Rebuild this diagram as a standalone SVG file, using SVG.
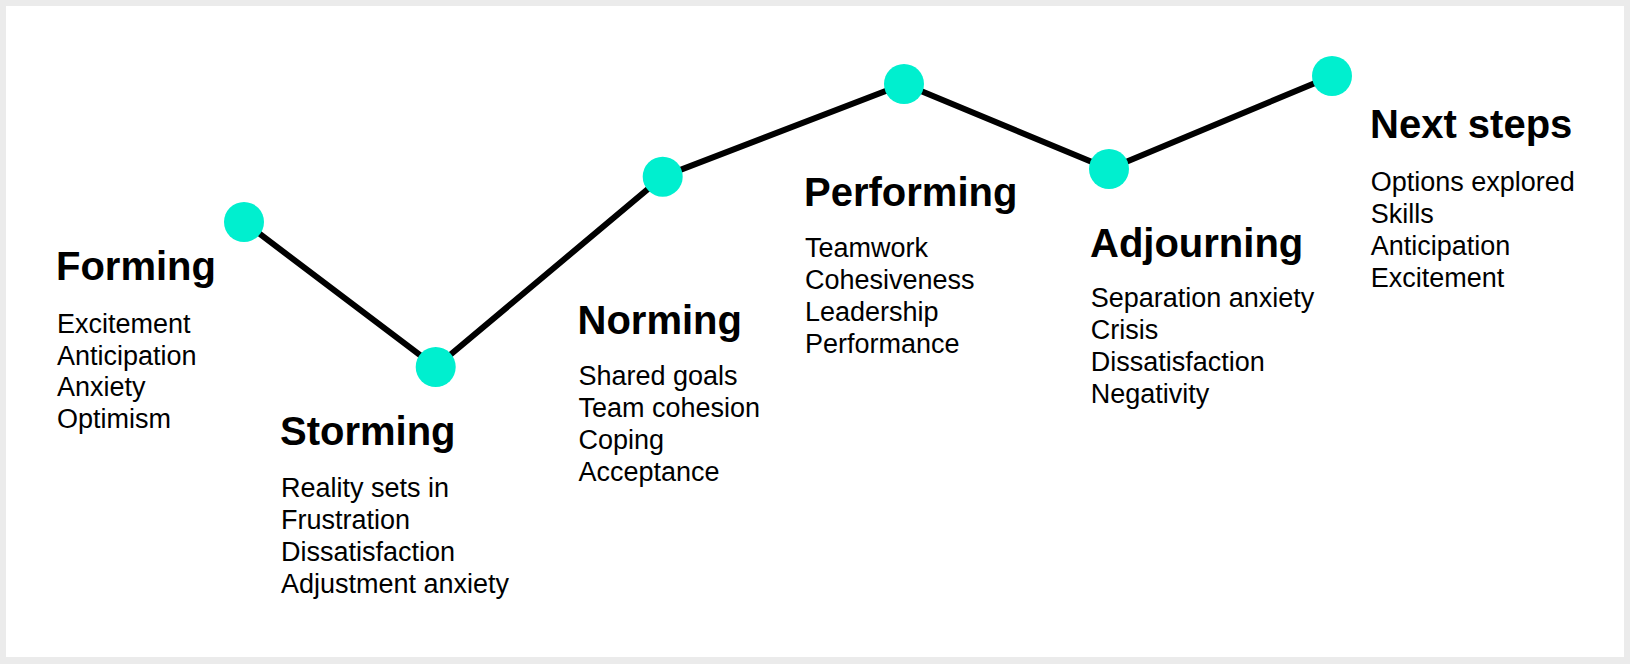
<svg xmlns="http://www.w3.org/2000/svg" width="1630" height="664" viewBox="0 0 1630 664">
<style>
.t{font-family:"Liberation Sans",Arial,sans-serif;font-weight:bold;font-size:40px;fill:#000}
.i{font-family:"Liberation Sans",Arial,sans-serif;font-size:27px;fill:#000}
.dot{fill:#00EFCF}
</style>
<rect x="0" y="0" width="1630" height="664" fill="#ebebeb"/>
<rect x="6" y="6" width="1618" height="651" fill="#ffffff"/>
<g id="connectors">
<polyline points="244,222 435.7,367 662.7,176.7 904,84 1109,169 1332,76" fill="none" stroke="#000" stroke-width="6" stroke-linejoin="miter"/>
</g>
<g id="forming">
<circle class="dot" cx="244" cy="222" r="20"/>
<text class="t" x="56" y="280">Forming</text>
<text class="i" x="57" y="332.7">Excitement</text>
<text class="i" x="57" y="364.7">Anticipation</text>
<text class="i" x="57" y="396">Anxiety</text>
<text class="i" x="57" y="427.7">Optimism</text>
</g>
<g id="storming">
<circle class="dot" cx="435.7" cy="367" r="20"/>
<text class="t" x="280" y="445">Storming</text>
<text class="i" x="281" y="496.7">Reality sets in</text>
<text class="i" x="281" y="528.7">Frustration</text>
<text class="i" x="281" y="560.7">Dissatisfaction</text>
<text class="i" x="281" y="592.7">Adjustment anxiety</text>
</g>
<g id="norming">
<circle class="dot" cx="662.7" cy="176.7" r="20"/>
<text class="t" x="577.5" y="334">Norming</text>
<text class="i" x="578.5" y="385">Shared goals</text>
<text class="i" x="578.5" y="417">Team cohesion</text>
<text class="i" x="578.5" y="449">Coping</text>
<text class="i" x="578.5" y="481">Acceptance</text>
</g>
<g id="performing">
<circle class="dot" cx="904" cy="84" r="20"/>
<text class="t" x="804" y="206">Performing</text>
<text class="i" x="805" y="256.7">Teamwork</text>
<text class="i" x="805" y="288.7">Cohesiveness</text>
<text class="i" x="805" y="320.7">Leadership</text>
<text class="i" x="805" y="352.7">Performance</text>
</g>
<g id="adjourning">
<circle class="dot" cx="1109" cy="169" r="20"/>
<text class="t" x="1090" y="257.3">Adjourning</text>
<text class="i" x="1090.7" y="306.7">Separation anxiety</text>
<text class="i" x="1090.7" y="338.7">Crisis</text>
<text class="i" x="1090.7" y="370.7">Dissatisfaction</text>
<text class="i" x="1090.7" y="402.7">Negativity</text>
</g>
<g id="next-steps">
<circle class="dot" cx="1332" cy="76" r="20"/>
<text class="t" x="1370" y="138">Next steps</text>
<text class="i" x="1370.7" y="190.7">Options explored</text>
<text class="i" x="1370.7" y="222.7">Skills</text>
<text class="i" x="1370.7" y="254.7">Anticipation</text>
<text class="i" x="1370.7" y="286.7">Excitement</text>
</g>
</svg>
